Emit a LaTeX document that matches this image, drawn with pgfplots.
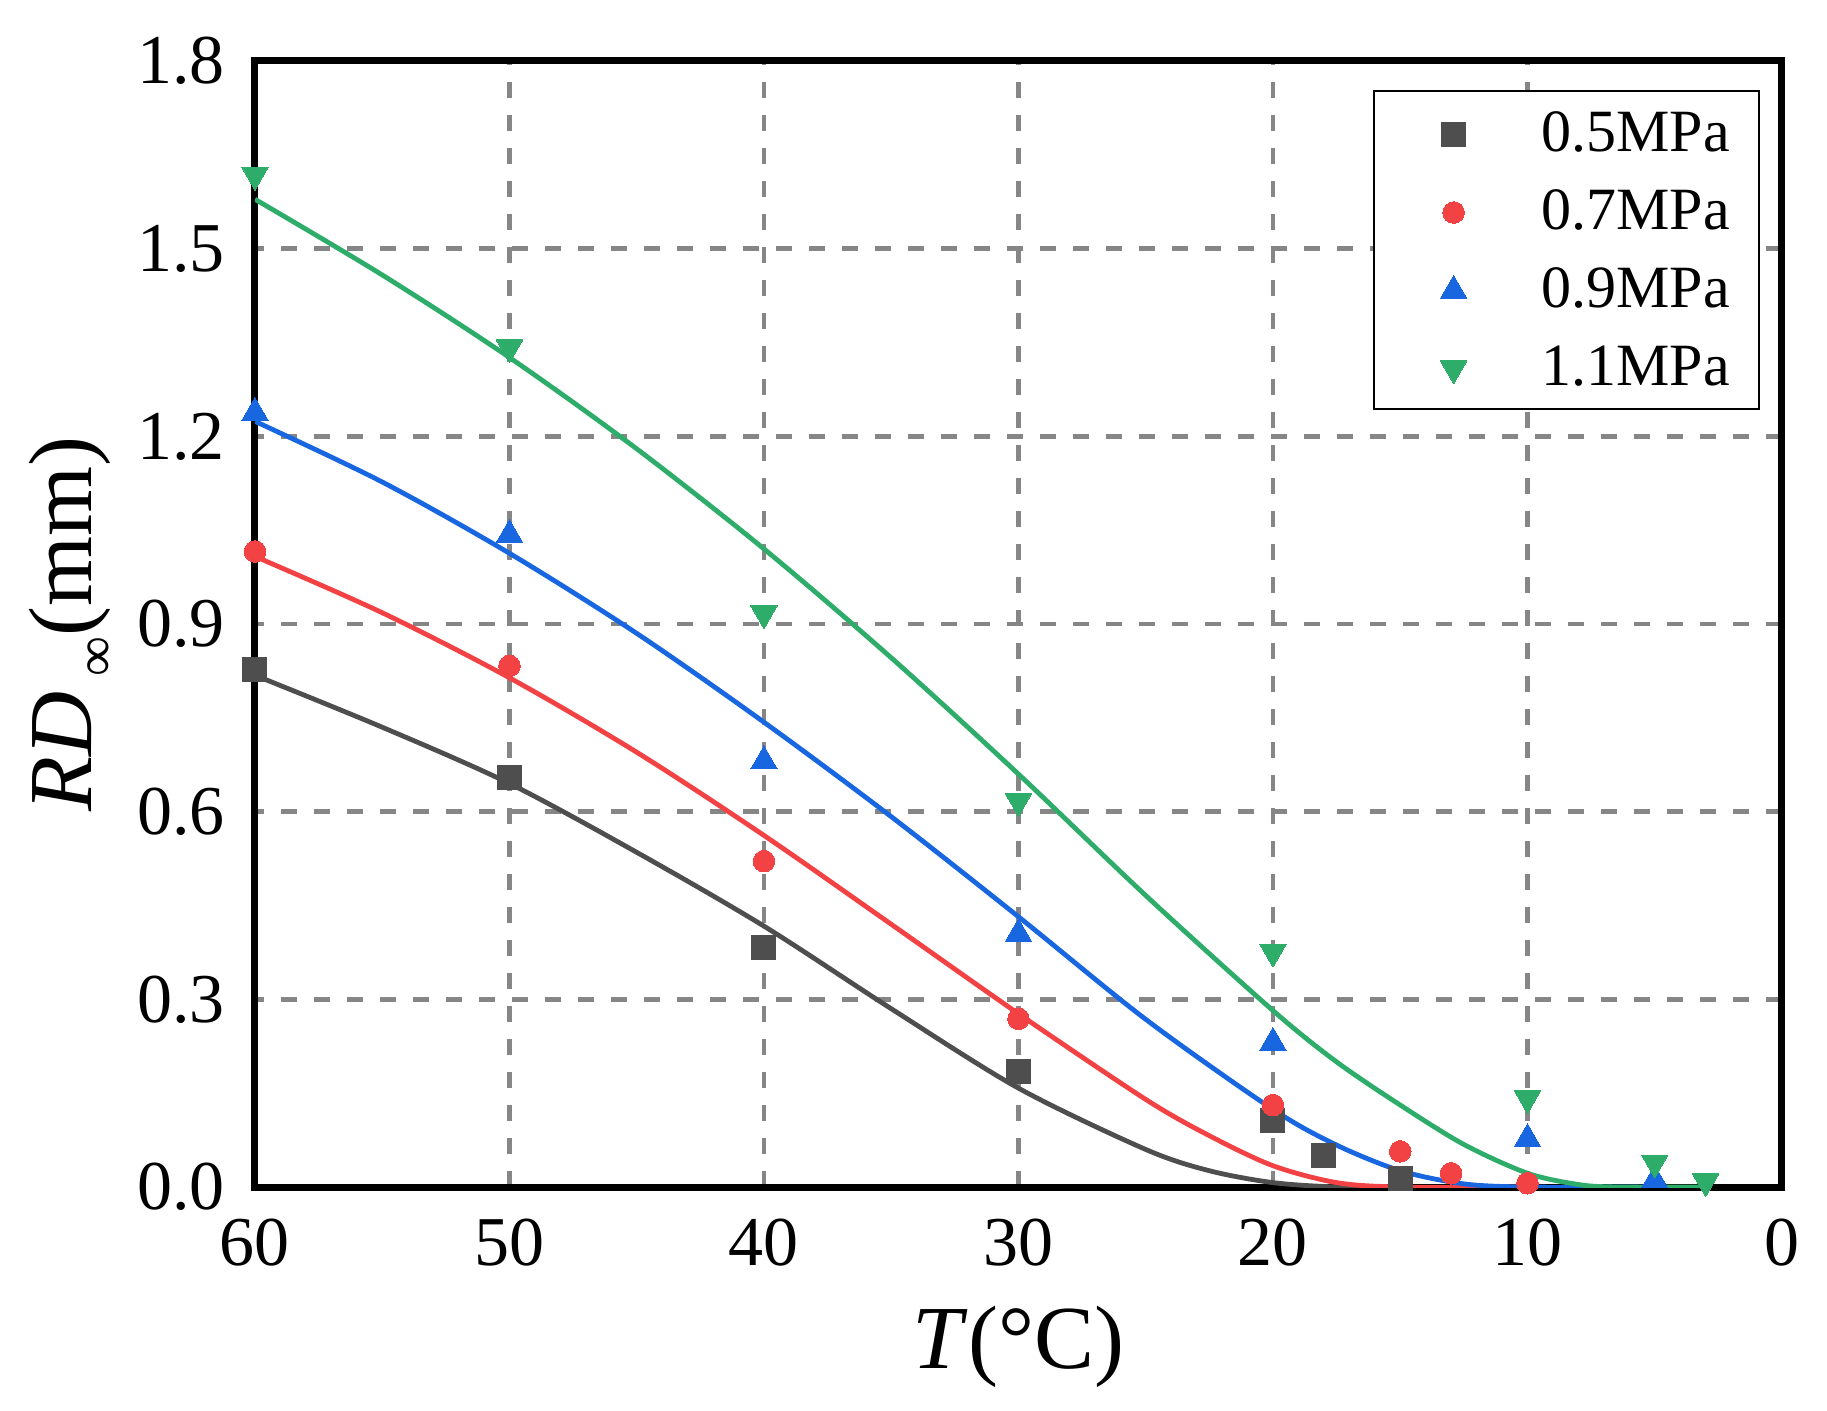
\documentclass[border=0pt]{standalone}
\usepackage{pgfplots}
\pgfplotsset{compat=1.18}
\usepackage{fontspec}
\setmainfont{Liberation Serif}
\definecolor{cblack}{RGB}{78,78,78}
\definecolor{cred}{RGB}{243,66,68}
\definecolor{cblue}{RGB}{24,103,224}
\definecolor{cgreen}{RGB}{46,172,106}
\begin{document}
\begin{tikzpicture}
\useasboundingbox (-127.5bp,-112bp) rectangle (786bp,593.5bp);
\begin{axis}[
  at={(0,0)}, anchor=south west,
  scale only axis, width=763.5bp, height=563bp,
  x dir=reverse,
  xmin=0, xmax=60, ymin=0, ymax=1.8,
  xtick={0,10,...,60},
  ytick={0,0.3,...,1.8},
  yticklabel style={/pgf/number format/fixed, /pgf/number format/fixed zerofill, /pgf/number format/precision=1, xshift=-15bp},
  /pgf/number format/assume math mode=true,
  tick label style={font=\fontsize{35bp}{40bp}\selectfont, inner sep=0pt},
  xticklabel style={yshift=-16bp},
  major tick length=0pt,
  axis line style={line width=3.5bp, black},
  grid=major,
  major grid style={gray!95, line width=2.3bp, dash pattern=on 8bp off 8.5bp},
  every axis x label/.style={at={(axis description cs:0.5,0)}, anchor=base, yshift=-90.5bp},
  every axis y label/.style={at={(axis description cs:0,0.5)}, xshift=-81.5bp, anchor=base, rotate=90},
  label style={font=\fontsize{45bp}{50bp}\selectfont},
  xlabel={\textit{T}(°C)},
  ylabel={\textit{RD}\,\raisebox{-0.25em}{\fontsize{28bp}{30bp}\selectfont ∞}(mm)},
  legend style={at={(1,1)}, anchor=north east, xshift=-11bp, yshift=-14.75bp,
    draw=black, line width=1bp, inner xsep=14.5bp, inner ysep=10bp,
    font=\fontsize{30bp}{34bp}\selectfont, row sep=17bp,
    nodes={inner sep=0pt}},
  legend cell align=left,
  legend image code/.code={\path[draw=none,fill=none] (0bp,-11bp) rectangle (69.5bp,11bp);
    \draw[#1] plot coordinates {(25.5bp,-0.5bp)};},
]
\addplot[only marks, mark=square*, mark size=6bp, color=cblack, mark options={line width=0pt}]
  coordinates {(60,0.828) (50,0.654) (40,0.383) (30,0.184) (20,0.107) (18,0.051) (15,0.014)};
\addlegendentry{0.5MPa}
\addplot[only marks, mark=*, mark size=5.4bp, color=cred, mark options={line width=0pt}]
  coordinates {(60,1.016) (50,0.833) (40,0.521) (30,0.269) (20,0.131) (15,0.057) (13,0.022) (10,0.006)};
\addlegendentry{0.7MPa}
\addplot[only marks, mark=triangle*, mark size=7.6bp, color=cblue, mark options={line width=0pt}]
  coordinates {(60,1.238) (50,1.043) (40,0.681) (30,0.405) (20,0.231) (10,0.077) (5,0.011)};
\addlegendentry{0.9MPa}
\addplot[only marks, mark=triangle*, mark size=7.6bp, color=cgreen, mark options={line width=0pt, rotate=180}]
  coordinates {(60,1.618) (50,1.342) (40,0.917) (30,0.617) (20,0.376) (10,0.142) (5,0.039) (3,0.009)};
\addlegendentry{1.1MPa}
\addplot[forget plot, no marks, smooth, color=cblack, line width=2.4bp]
  coordinates {(60,0.818) (55,0.735) (50,0.645) (45,0.535) (40,0.417) (35,0.285) (30,0.158) (25,0.060) (22.5,0.026) (20,0.007) (17.5,0) (15,0)};
\addplot[forget plot, no marks, smooth, color=cred, line width=2.4bp]
  coordinates {(60,1.008) (55,0.918) (50,0.814) (45,0.695) (40,0.562) (35,0.420) (30,0.277) (25,0.140) (22.5,0.082) (20,0.034) (17.5,0.007) (15,0) (10,0)};
\addplot[forget plot, no marks, smooth, color=cblue, line width=2.4bp]
  coordinates {(60,1.224) (55,1.127) (50,1.013) (45,0.885) (40,0.743) (35,0.592) (30,0.432) (25,0.268) (20,0.124) (17.5,0.067) (15,0.026) (12.5,0.005) (10,0) (5,0)};
\addplot[forget plot, no marks, smooth, color=cgreen, line width=2.4bp]
  coordinates {(60,1.579) (55,1.458) (50,1.326) (45,1.180) (40,1.020) (35,0.846) (30,0.660) (25,0.466) (20,0.282) (17.5,0.200) (15,0.131) (12.5,0.068) (10,0.022) (8,0.004) (6.5,0) (3,0)};
\end{axis}
\end{tikzpicture}
\end{document}
